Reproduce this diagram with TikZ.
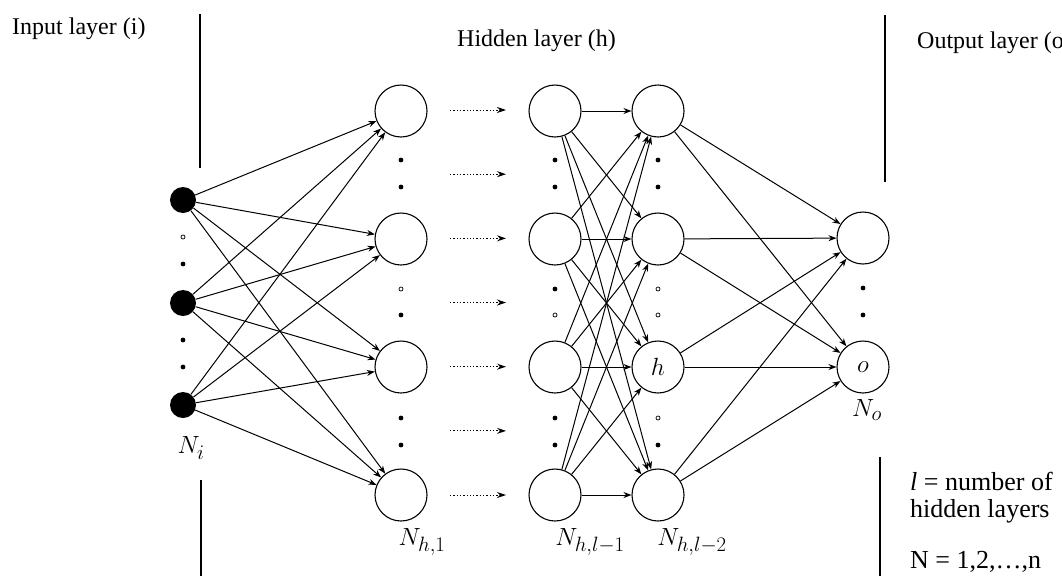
\documentclass[tikz,border=0pt]{standalone}
\usepackage[no-math]{fontspec}
\setmainfont{Liberation Serif}
\usetikzlibrary{arrows.meta}
\begin{document}
\begin{tikzpicture}[x=1pt,y=-1pt,
  neuron/.style={circle,draw,line width=1.1pt,minimum size=52pt,inner sep=0pt,font=\fontsize{28}{32}\selectfont},
  inp/.style={circle,fill=black,minimum size=26pt,inner sep=0pt},
  conn/.style={-{Stealth[length=8pt,width=6pt]},line width=1pt},
  flow/.style={-{Stealth[length=9pt,width=6pt]},line width=1pt,dash pattern=on 1.3pt off 2pt},
  sep/.style={line width=1.3pt},
  lbl/.style={font=\fontsize{24}{28}\selectfont,anchor=base west,inner sep=0pt},
  note/.style={font=\fontsize{26}{30}\selectfont,anchor=base west,inner sep=0pt},
  mlbl/.style={font=\fontsize{30}{34}\selectfont,inner sep=0pt},
]
\useasboundingbox (0,0) rectangle (1062,576);
\fill[white] (0,0) rectangle (1062,576);

% separators
\draw[sep] (200,14) -- (200,168);
\draw[sep] (201,480) -- (201,576);
\draw[sep] (885,15) -- (885,182);
\draw[sep] (880,457) -- (880,576);

% titles
\node[lbl] (tin) at (12,34) {Input layer (i)};
\node[lbl] (thid) at (457,46) {Hidden layer (h)};
\node[lbl] (tout) at (917,48) {Output layer (o};
\node[note] (t1) at (910,490) {\textit{l} = number of};
\node[note] (t2) at (910,517) {hidden layers};
\node[note] (t3) at (910,568) {N = 1,2,\dots,n};

% nodes
\foreach \n/\y in {1/200,2/303,3/405} \node[inp] (i\n) at (183,\y) {};
\foreach \n/\y in {1/111,2/239,3/367,4/495} {
  \node[neuron] (a\n) at (401,\y) {};
  \node[neuron] (b\n) at (555,\y) {};
}
\node[neuron] (c1) at (658,111) {};
\node[neuron] (c2) at (658,239) {};
\node[neuron] (c3) at (658,367) {$h$};
\node[neuron] (c4) at (658,495) {};
\node[neuron] (o1) at (863,238) {};
\node[neuron] (o2) at (863,367) {$o$};

% connections
\foreach \s in {1,2,3} \foreach \t in {1,...,4} \draw[conn] (i\s) -- (a\t);
\foreach \s in {1,...,4} \foreach \t in {1,...,4} \draw[conn] (b\s) -- (c\t);
\foreach \s in {1,...,4} \foreach \t in {1,2} \draw[conn] (c\s) -- (o\t);

% dotted arrows between hidden layers
\foreach \k in {0,...,6} {
  \coordinate (ds\k) at (450,{110+64.17*\k});
  \coordinate (de\k) at (506,{110+64.17*\k});
  \draw[flow] (ds\k) -- (de\k);
}

% ellipsis dots (filled)
\foreach \x/\y in {183/264,183/340,183/367,
                   401/160,401/187,401/315,401/418,401/445,
                   555/160,555/187,555/289,555/418,555/445,
                   658/160,658/187,658/445,
                   863/288,863/315}
  \fill (\x,\y) circle (2.4pt);
% ellipsis dots (hollow)
\foreach \x/\y in {183/237,401/289,555/315,658/289,658/315,658/418}
  \draw[line width=0.7pt] (\x,\y) circle (2pt);

% labels
\node[mlbl] (Ni) at (191,448) {$N_i$};
\node[mlbl] (Nh1) at (422,542) {$N_{h,1}$};
\node[mlbl] (Nhl1) at (590,542) {$N_{h,l-1}$};
\node[mlbl] (Nhl2) at (692,542) {$N_{h,l-2}$};
\node[mlbl] (No) at (867,410) {$N_o$};
\end{tikzpicture}
\end{document}
